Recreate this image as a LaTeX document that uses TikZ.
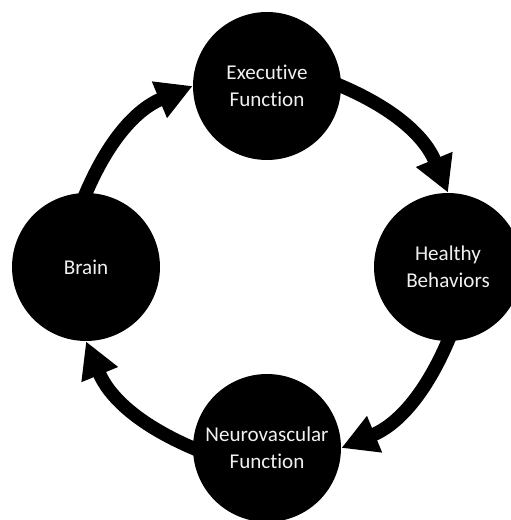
\documentclass[tikz,border=0pt]{standalone}
\usepackage{fontspec}
\setmainfont{Carlito}[Ligatures=NoCommon]
\usetikzlibrary{arrows.meta,backgrounds}

\tikzset{
    stagecircle/.style={circle, fill=black, minimum size=2.96cm, inner sep=0pt, align=center,
        text=white!94!black, font=\fontsize{12}{15.2}\selectfont},
    cyclearrow/.style={line width=0.27cm, shorten <=-5pt, -{Triangle[length=0.72cm, width=0.74cm]}}
}

\begin{document}
\begin{tikzpicture}[x=0.02cm, y=0.02cm]
        \useasboundingbox (0,0) rectangle (510,520);
        \begin{scope}
            \node[stagecircle] (exec)   at (267,434) {Executive\\Function};
            \node[stagecircle] (health) at (448,253) {Healthy\\Behaviors};
            \node[stagecircle] (neuro)  at (267,72)  {Neurovascular\\Function};
            \node[stagecircle] (brain)  at (86,253)  {Brain};
        \end{scope}

        \begin{scope}[on background layer]
            \draw[cyclearrow] (brain.north)  to[out=68, in=-157.5]  (exec.west);
            \draw[cyclearrow] (exec.east)    to[out=-22, in=112.5]  (health.north);
            \draw[cyclearrow] (health.south) to[out=-112, in=22.5]  (neuro.east);
            \draw[cyclearrow] (neuro.west)   to[out=158, in=-67.5]  (brain.south);
        \end{scope}

    \end{tikzpicture}
\end{document}
